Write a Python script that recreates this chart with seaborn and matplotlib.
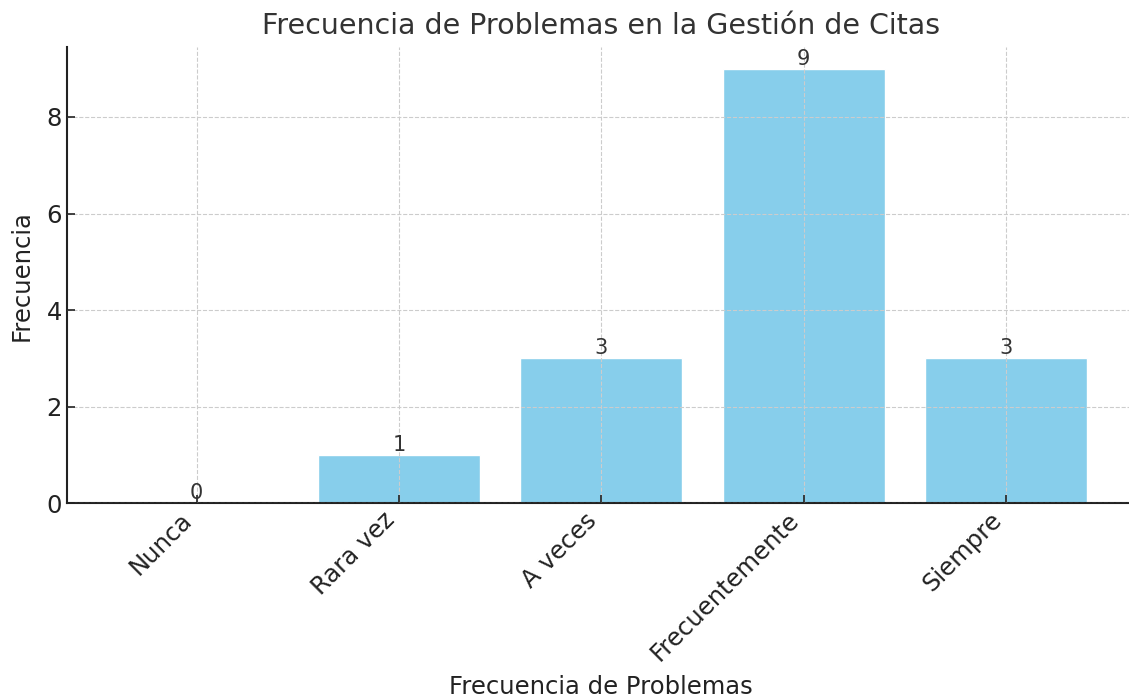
import pandas as pd
import matplotlib.pyplot as plt
import seaborn as sns

categorias = ["Nunca", "Rara vez", "A veces", "Frecuentemente", "Siempre"]
frecuencias = [0, 1, 3, 9, 3]

df = pd.DataFrame({"categoria": categorias, "frecuencia": frecuencias})

sns.set_style("ticks")
plt.rcParams['font.family'] = ['DejaVu Sans']
plt.rcParams['text.color'] = '#333333'
plt.rcParams['axes.labelcolor'] = '#222222'
plt.rcParams['xtick.color'] = '#222222'
plt.rcParams['ytick.color'] = '#222222'

fig, ax = plt.subplots(figsize=(11.29, 7), dpi=100)
sns.barplot(data=df, x="categoria", y="frecuencia", color="skyblue", saturation=1, ax=ax)

# etiquetas sobre las barras
ax.bar_label(ax.containers[0], fontsize=15, color='#333333', padding=0)

ax.set_title("Frecuencia de Problemas en la Gestión de Citas", fontsize=20.5, color='#333333', pad=9)
ax.set_xlabel("Frecuencia de Problemas", fontsize=17.5, labelpad=7)
ax.set_ylabel("Frecuencia", fontsize=17.5, labelpad=9)
ax.set_xlim(-0.64, 4.64)
ax.set_ylim(0, 9.45)
plt.xticks(rotation=45, ha='right', fontsize=17.5)
plt.yticks(fontsize=17.5)
ax.tick_params(direction='in', length=6, width=1.2)
ax.grid(True, linestyle='--', color='#cccccc', linewidth=0.8)
ax.set_axisbelow(False)
for s in ['top', 'right']:
    ax.spines[s].set_visible(False)
for s in ['left', 'bottom']:
    ax.spines[s].set_color('#222222')
    ax.spines[s].set_linewidth(1.5)

plt.subplots_adjust(left=0.0593, right=1.006, bottom=0.281, top=0.933)
plt.savefig("out.png", dpi=100)
